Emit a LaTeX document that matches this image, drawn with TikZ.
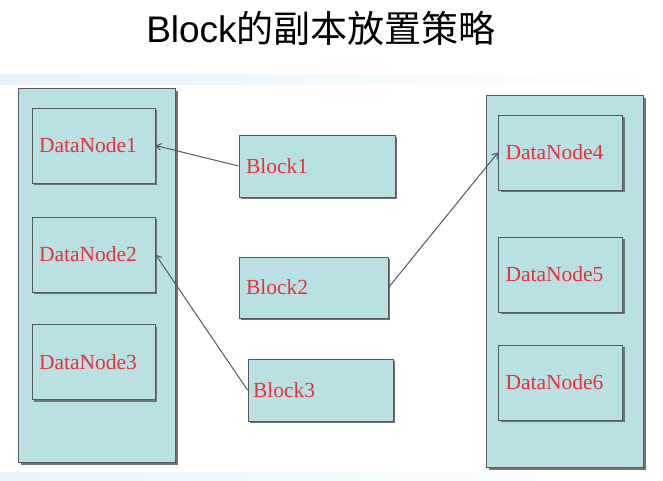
\documentclass[tikz,border=0pt]{standalone}
\usepackage{fontspec}
\setmainfont{Liberation Sans}
\newfontfamily\cjkfont{Noto Sans CJK SC}
\newfontfamily\lblfont{Liberation Serif}
\usetikzlibrary{arrows.meta,shadows}
\definecolor{boxfill}{RGB}{185,224,227}
\definecolor{boxline}{RGB}{85,90,90}
\definecolor{lblred}{RGB}{230,50,60}
\definecolor{bandblue}{RGB}{232,243,249}
\begin{document}
\begin{tikzpicture}[x=1pt,y=-1pt,
  cont/.style={draw=boxline,line width=1pt,fill=boxfill,
    drop shadow={shadow xshift=2pt,shadow yshift=-2pt,fill=black!55,opacity=1},
    anchor=north west,inner sep=0pt},
  box/.style={draw=boxline,line width=1pt,fill=boxfill,
    drop shadow={shadow xshift=2pt,shadow yshift=-2pt,fill=black!55,opacity=1},
    inner xsep=7pt,inner ysep=0pt,align=left,
    font=\lblfont\fontsize{21.5}{24}\selectfont,text=lblred},
  link/.style={draw=black!65,line width=1pt,-{Straight Barb[length=5pt,width=7pt]}}]
\useasboundingbox (0,0) rectangle (663,480);
\fill[white] (0,0) rectangle (663,480);
% faint slide bands
\shade[left color=bandblue,right color=white] (0,74) rectangle (663,84);
\shade[left color=bandblue,right color=white] (0,472) rectangle (663,480);
% title
\node (title) at (321,28) {\fontsize{37}{40}\selectfont Block\cjkfont 的副本放置策略};
% containers
\node[cont,minimum width=157pt,minimum height=374pt] (lc) at (18,88) {};
\node[cont,minimum width=157pt,minimum height=372pt] (rc) at (486,95) {};
% data nodes
\node[box,text width=109pt,minimum height=75pt] (dn1) at (93.5,145.5) {DataNode1};
\node[box,text width=109pt,minimum height=75pt] (dn2) at (93.5,254.5) {DataNode2};
\node[box,text width=109pt,minimum height=75pt] (dn3) at (93.5,362) {DataNode3};
\node[box,text width=110pt,minimum height=75pt] (dn4) at (560.5,152.5) {DataNode4};
\node[box,text width=110pt,minimum height=75pt] (dn5) at (560.5,274.5) {DataNode5};
\node[box,text width=110pt,minimum height=75pt] (dn6) at (560.5,382.5) {DataNode6};
% blocks
\node[box,text width=142pt,minimum height=62pt] (b1) at (317,166) {Block1};
\node[box,text width=135pt,minimum height=61pt] (b2) at (313.5,287.5) {Block2};
\node[box,inner xsep=5pt,text width=135pt,minimum height=62pt] (b3) at (320.5,390) {Block3};
% connectors
\draw[link] (b1.west) -- (dn1.east);
\draw[link] (b3.west) -- (dn2.east);
\draw[link] (b2.east) -- (dn4.west);
\end{tikzpicture}
\end{document}
